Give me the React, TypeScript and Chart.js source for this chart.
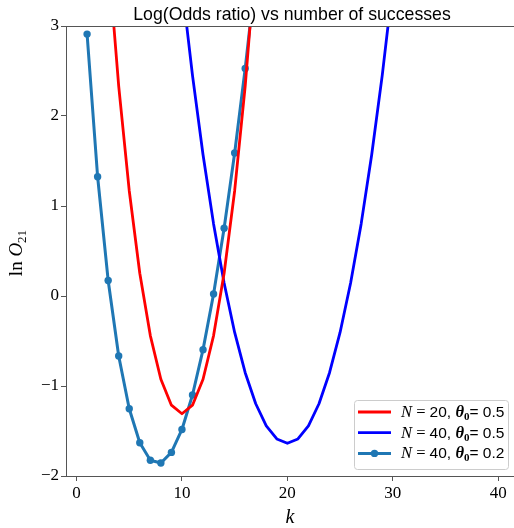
import React, { useEffect, useRef } from "react";
import { Chart, registerables } from "chart.js";

Chart.register(...registerables);

// ---- data (ln O21 vs k) ----
const K_N20: number[] = [0, 1, 2, 3, 4, 5, 6, 7, 8, 9, 10, 11, 12, 13, 14, 15, 16, 17, 18, 19, 20];
const LNO_N20_T05: number[] = [
  10.818, 7.823, 5.571, 3.78, 2.333, 1.17, 0.253, -0.44, -0.925, -1.213, -1.308,
  -1.213, -0.925, -0.44, 0.253, 1.17, 2.333, 3.78, 5.571, 7.823, 10.818,
];
const K_N40: number[] = [
  0, 1, 2, 3, 4, 5, 6, 7, 8, 9, 10, 11, 12, 13, 14, 15, 16, 17, 18, 19, 20,
  21, 22, 23, 24, 25, 26, 27, 28, 29, 30, 31, 32, 33, 34, 35, 36, 37, 38, 39, 40,
];
const LNO_N40_T05: number[] = [
  24.012, 20.323, 17.353, 14.814, 12.589, 10.615, 8.852, 7.271, 5.854, 4.586, 3.454,
  2.451, 1.569, 0.801, 0.145, -0.405, -0.852, -1.197, -1.442, -1.588, -1.637,
  -1.588, -1.442, -1.197, -0.852, -0.405, 0.145, 0.801, 1.569, 2.451, 3.454,
  4.586, 5.854, 7.271, 8.852, 10.615, 12.589, 14.814, 17.353, 20.323, 24.012,
];
const K_N40_B: number[] = [1, 2, 3, 4, 5, 6, 7, 8, 9, 10, 11, 12, 13, 14, 15, 16, 17, 18, 19, 20];
const LNO_N40_T02: number[] = [
  2.91, 1.325, 0.173, -0.666, -1.253, -1.631, -1.825, -1.856, -1.738, -1.483,
  -1.1, -0.596, 0.023, 0.753, 1.589, 2.529, 3.57, 4.711, 5.951, 7.289,
];

const LEGEND_N: number[] = [20, 40, 40];
const LEGEND_THETA: string[] = ["0.5", "0.5", "0.2"];
const X_TICKS: number[] = [0, 10, 20, 30, 40];
const Y_TICKS: number[] = [-2, -1, 0, 1, 2, 3];
const TITLE = "Log(Odds ratio) vs number of successes";

const SERIF = '"Liberation Serif", "DejaVu Serif", serif';
const SANS = '"Liberation Sans", "DejaVu Sans", sans-serif';
const AXIS_COLOR = "#555555";

type Run = { t: string; f: string; dy?: number };

function runsWidth(ctx: CanvasRenderingContext2D, runs: Run[]) {
  let w = 0;
  for (const r of runs) {
    ctx.font = r.f;
    w += ctx.measureText(r.t).width;
  }
  return w;
}

function drawRuns(ctx: CanvasRenderingContext2D, runs: Run[], x: number, y: number) {
  let cx = x;
  ctx.textAlign = "left";
  for (const r of runs) {
    ctx.font = r.f;
    ctx.fillText(r.t, cx, y + (r.dy || 0));
    cx += ctx.measureText(r.t).width;
  }
}

const decorPlugin = {
  id: "decor",
  afterDraw(chart: any) {
    const ctx: CanvasRenderingContext2D = chart.ctx;
    const a = chart.chartArea;
    ctx.save();
    // top spine
    ctx.strokeStyle = AXIS_COLOR;
    ctx.lineWidth = 1;
    ctx.beginPath();
    ctx.moveTo(a.left, a.top + 0.5);
    ctx.lineTo(a.right, a.top + 0.5);
    ctx.stroke();

    ctx.fillStyle = "#000";
    ctx.textBaseline = "alphabetic";
    // title
    ctx.font = `17.7px ${SANS}`;
    ctx.textAlign = "center";
    ctx.fillText(TITLE, (a.left + a.right) / 2 + 2, a.top - 6);

    // x label
    ctx.font = `italic 20px ${SERIF}`;
    ctx.fillText("k", (a.left + a.right) / 2, a.bottom + 47);

    // y label (rotated)
    const yRuns: Run[] = [
      { t: "ln ", f: `19px ${SERIF}` },
      { t: "O", f: `italic 19px ${SERIF}` },
      { t: "21", f: `13px ${SERIF}`, dy: 4 },
    ];
    ctx.save();
    ctx.translate(22, (a.top + a.bottom) / 2 + 2);
    ctx.rotate(-Math.PI / 2);
    const yw = runsWidth(ctx, yRuns);
    drawRuns(ctx, yRuns, -yw / 2, 0);
    ctx.restore();

    // legend
    const bx = a.right - 160;
    const by = a.bottom - 76;
    const bw = 154;
    const bh = 69;
    ctx.beginPath();
    (ctx as any).roundRect(bx + 0.5, by + 0.5, bw, bh, 3);
    ctx.fillStyle = "rgba(255,255,255,0.8)";
    ctx.fill();
    ctx.strokeStyle = "#cccccc";
    ctx.lineWidth = 1;
    ctx.stroke();
    chart.data.datasets.forEach((ds: any, i: number) => {
      const ry = by + 12 + i * 20.7;
      ctx.strokeStyle = ds.borderColor;
      ctx.lineWidth = ds.borderWidth;
      ctx.beginPath();
      ctx.moveTo(bx + 4, ry);
      ctx.lineTo(bx + 37, ry);
      ctx.stroke();
      if (ds.pointRadius > 0) {
        ctx.fillStyle = ds.borderColor;
        ctx.beginPath();
        ctx.arc(bx + 20.5, ry, ds.pointRadius, 0, Math.PI * 2);
        ctx.fill();
      }
      ctx.fillStyle = "#000";
      const runs: Run[] = [
        { t: "N", f: `italic 16.5px ${SERIF}` },
        { t: "\u2005=\u2005", f: `16.5px ${SERIF}` },
        { t: `${LEGEND_N[i]}, `, f: `15.5px ${SANS}` },
        { t: "θ", f: `italic bold 16.5px ${SERIF}` },
        { t: "0", f: `bold 11px ${SERIF}`, dy: 3 },
        { t: "= ", f: `15.5px ${SANS}` },
        { t: LEGEND_THETA[i], f: `15.5px ${SANS}` },
      ];
      drawRuns(ctx, runs, bx + 47, ry + 5);
    });
    ctx.restore();
  },
};

export default function App() {
  const ref = useRef<HTMLCanvasElement | null>(null);
  useEffect(() => {
    if (!ref.current) return;
    const mk = (xs: number[], ys: number[]) => xs.map((x, i) => ({ x, y: ys[i] }));
    const chart = new Chart(ref.current, {
      type: "line",
      data: {
        datasets: [
          {
            label: "N = 20, θ0 = 0.5",
            data: mk(K_N20, LNO_N20_T05),
            borderColor: "#ff0000",
            backgroundColor: "#ff0000",
            borderWidth: 2.8,
            pointRadius: 0,
            tension: 0,
          },
          {
            label: "N = 40, θ0 = 0.5",
            data: mk(K_N40, LNO_N40_T05),
            borderColor: "#0000ff",
            backgroundColor: "#0000ff",
            borderWidth: 2.8,
            pointRadius: 0,
            tension: 0,
          },
          {
            label: "N = 40, θ0 = 0.2",
            data: mk(K_N40_B, LNO_N40_T02),
            borderColor: "#1f77b4",
            backgroundColor: "#1f77b4",
            borderWidth: 3,
            pointRadius: 3.7,
            pointBorderWidth: 0,
            tension: 0,
          },
        ],
      },
      options: {
        animation: false,
        responsive: false,
        devicePixelRatio: 1,
        layout: { autoPadding: false, padding: { top: 26, left: 0, right: 0, bottom: 0 } },
        plugins: { legend: { display: false }, tooltip: { enabled: false }, title: { display: false } },
        elements: { line: { borderJoinStyle: "round", borderCapStyle: "round" } },
        scales: {
          x: {
            type: "linear",
            min: -1,
            max: 41.5,
            afterBuildTicks: (s: any) => {
              s.ticks = X_TICKS.map((v) => ({ value: v }));
            },
            afterFit: (s: any) => {
              s.height = 52;
              s.paddingRight = 0;
              s.paddingLeft = 0;
            },
            grid: { drawOnChartArea: false, drawTicks: true, tickLength: 5, color: AXIS_COLOR },
            border: { color: AXIS_COLOR, width: 1 },
            ticks: {
              color: "#000",
              font: { family: SERIF, size: 17 },
              padding: 2,
              maxRotation: 0,
              autoSkip: false,
              callback: (v: any) => (v < 0 ? "\u2212" + Math.abs(v) : String(v)),
            },
          },
          y: {
            type: "linear",
            min: -2,
            max: 3,
            afterBuildTicks: (s: any) => {
              s.ticks = Y_TICKS.map((v) => ({ value: v }));
            },
            afterFit: (s: any) => {
              s.width = 66;
            },
            grid: { drawOnChartArea: false, drawTicks: true, tickLength: 5, color: AXIS_COLOR },
            border: { color: AXIS_COLOR, width: 1 },
            ticks: {
              color: "#000",
              font: { family: SERIF, size: 17 },
              padding: 2,
              autoSkip: false,
              callback: (v: any) => (v < 0 ? "\u2212" + Math.abs(v) : String(v)),
            },
          },
        },
      },
      plugins: [decorPlugin],
    } as any);
    return () => chart.destroy();
  }, []);
  return (
    <div style={{ position: "fixed", left: 0, top: 0, width: 514, height: 528, background: "#fff" }}>
      <canvas ref={ref} width={514} height={528} style={{ display: "block" }} />
    </div>
  );
}
